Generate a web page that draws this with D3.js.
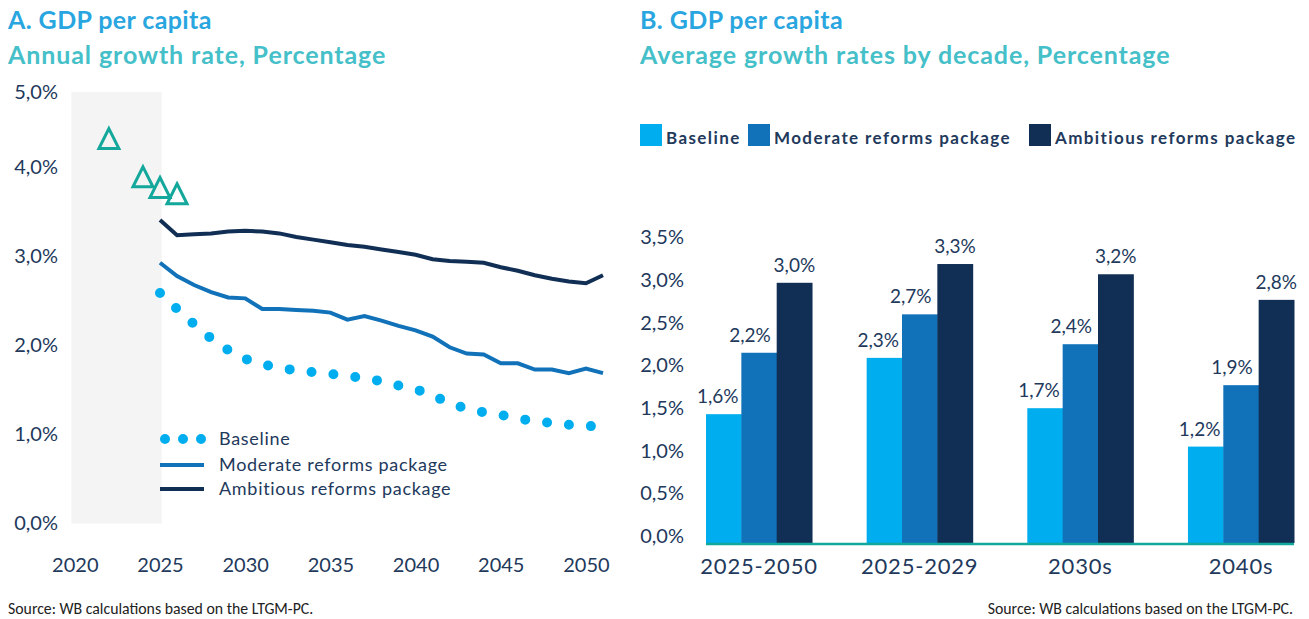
<!DOCTYPE html>
<html>
<head>
<meta charset="utf-8">
<script src="https://cdn.jsdelivr.net/npm/d3@7"></script>
<style>
  body { margin: 0; background: #fff; }
  text { font-family: Lato, "Open Sans", sans-serif; }
</style>
</head>
<body>
<svg width="1309" height="619"></svg>
<script>
// ---- data, panel A ----
var years = [2025, 2026, 2027, 2028, 2029, 2030, 2031, 2032, 2033, 2034, 2035, 2036, 2037, 2038,
  2039, 2040, 2041, 2042, 2043, 2044, 2045, 2046, 2047, 2048, 2049, 2050, 2051];
var baselineA = [2.59, 2.41, 2.24, 2.08, 1.95, 1.85, 1.79, 1.75, 1.72, 1.70, 1.68, 1.66, 1.63, 1.60,
  1.55, 1.51, 1.44, 1.35, 1.29, 1.25, 1.22, 1.18, 1.15, 1.13, 1.11, 1.10, 1.08];
var moderateA = [2.93, 2.78, 2.68, 2.60, 2.54, 2.53, 2.41, 2.41, 2.40, 2.39, 2.37, 2.29, 2.33, 2.28,
  2.22, 2.17, 2.10, 1.98, 1.91, 1.90, 1.80, 1.80, 1.73, 1.73, 1.69, 1.74, 1.69];
var ambitiousA = [3.41, 3.24, 3.25, 3.26, 3.28, 3.29, 3.28, 3.26, 3.22, 3.19, 3.16, 3.13, 3.11, 3.08,
  3.05, 3.02, 2.97, 2.95, 2.94, 2.93, 2.88, 2.84, 2.79, 2.75, 2.72, 2.70, 2.79];
var histYears = [2022, 2024, 2025, 2026];
var histValues = [4.32, 3.89, 3.77, 3.70];
var shadeYears = [2019.8, 2025.1];
var yTicksA = [0, 1, 2, 3, 4, 5];
var xTicksA = [2020, 2025, 2030, 2035, 2040, 2045, 2050];

// ---- data, panel B ----
var decades = ['2025-2050', '2025-2029', '2030s', '2040s'];
var seriesNames = ['Baseline', 'Moderate reforms package', 'Ambitious reforms package'];
var baselineB = [1.51, 2.17, 1.58, 1.13];
var moderateB = [2.23, 2.68, 2.33, 1.85];
var ambitiousB = [3.05, 3.27, 3.15, 2.85];
var labelsB = [
  ['1,6%', '2,3%', '1,7%', '1,2%'],
  ['2,2%', '2,7%', '2,4%', '1,9%'],
  ['3,0%', '3,3%', '3,2%', '2,8%']
];
var yTicksB = [0, 0.5, 1, 1.5, 2, 2.5, 3, 3.5];

var colors = ['#00aeef', '#1172ba', '#112f55'];
var textColor = '#22395c';
var teal = '#13a89b';

var locale = d3.formatLocale({decimal: ',', thousands: '.', grouping: [3], currency: ['', '']});
var pct = function(v) { return locale.format('.1f')(v) + '%'; };

var svg = d3.select('svg');

var title = function(x, a, b) {
  svg.append('text').attr('x', x).attr('y', 29)
    .attr('font-size', 25).attr('font-weight', 700).attr('letter-spacing', 0.4).attr('fill', '#29a6df')
    .text(a);
  svg.append('text').attr('x', x).attr('y', 64)
    .attr('font-size', 25).attr('font-weight', 700).attr('letter-spacing', 0.9).attr('fill', '#45c0c9')
    .text(b);
};
var source = function(x, anchor) {
  svg.append('text').attr('x', x).attr('y', 614).attr('text-anchor', anchor)
    .attr('font-size', 15.8).attr('fill', '#222')
    .style('font-family', 'Carlito, "Liberation Sans", sans-serif')
    .text('Source: WB calculations based on the LTGM-PC.');
};

// ================= Panel A =================
var xA = d3.scaleLinear().domain([2025, 2051]).range([160, 603]);
var yA = d3.scaleLinear().domain([0, 4.85]).range([523.5, 91.9]).clamp(true);

title(8, 'A. GDP per capita', 'Annual growth rate, Percentage');

svg.append('rect')
  .attr('x', xA(shadeYears[0]))
  .attr('width', xA(shadeYears[1]) - xA(shadeYears[0]))
  .attr('y', yA(4.85))
  .attr('height', yA(0) - yA(4.85))
  .attr('fill', '#f4f4f4');

var yAxisA = svg.append('g').attr('transform', 'translate(60,0)')
  .call(d3.axisLeft(yA).tickValues(yTicksA).tickFormat(pct).tickSize(0).tickPadding(2));
var xAxisA = svg.append('g').attr('transform', 'translate(0,548)')
  .call(d3.axisBottom(xA).tickValues(xTicksA).tickFormat(d3.format('d')).tickSize(0).tickPadding(10));
[yAxisA, xAxisA].forEach(function(g) {
  g.select('.domain').remove();
  g.selectAll('text').attr('font-size', 20).attr('fill', textColor)
    .style('font-family', 'Lato, sans-serif');
});

var lineA = d3.line()
  .x(function(d) { return xA(d[0]); })
  .y(function(d) { return yA(d[1]); });

var zip = function(vals) { return years.map(function(y, i) { return [y, vals[i]]; }); };

svg.append('path').datum(zip(ambitiousA)).attr('d', lineA)
  .attr('fill', 'none').attr('stroke', colors[2]).attr('stroke-width', 4);
svg.append('path').datum(zip(moderateA)).attr('d', lineA)
  .attr('fill', 'none').attr('stroke', colors[1]).attr('stroke-width', 4);
svg.append('path').datum(zip(baselineA)).attr('d', lineA)
  .attr('fill', 'none').attr('stroke', colors[0]).attr('stroke-width', 10)
  .attr('stroke-linecap', 'round').attr('stroke-dasharray', '0,22');

// historical points, drawn as open triangles
svg.selectAll('path.hist')
  .data(histYears.map(function(y, i) { return [y, histValues[i]]; }))
  .enter().append('path')
  .attr('class', 'hist')
  .attr('transform', function(d) { return 'translate(' + xA(d[0]) + ',' + yA(d[1]) + ')'; })
  .attr('d', 'M0,-10.5L10,9.5L-10,9.5Z')
  .attr('fill', 'none').attr('stroke', teal).attr('stroke-width', 3)
  .attr('stroke-linejoin', 'miter');

// legend A
var legA = svg.append('g');
var legRows = [439, 465, 489];
legA.append('line').attr('x1', 165).attr('x2', 202).attr('y1', legRows[0]).attr('y2', legRows[0])
  .attr('stroke', colors[0]).attr('stroke-width', 10).attr('stroke-linecap', 'round')
  .attr('stroke-dasharray', '0,18');
[1, 2].forEach(function(i) {
  legA.append('line').attr('x1', 160).attr('x2', 204).attr('y1', legRows[i]).attr('y2', legRows[i])
    .attr('stroke', colors[i]).attr('stroke-width', 4);
});
seriesNames.forEach(function(n, i) {
  legA.append('text').attr('x', 219).attr('y', legRows[i]).attr('dy', '0.35em')
    .attr('font-size', 18).attr('letter-spacing', 0.7).attr('fill', textColor).text(n);
});

source(8, 'start');

// ================= Panel B =================
title(640, 'B. GDP per capita', 'Average growth rates by decade, Percentage');

// legend B
var legBx = [640, 748, 1029];
seriesNames.forEach(function(n, i) {
  svg.append('rect').attr('x', legBx[i]).attr('y', 124).attr('width', 22).attr('height', 22)
    .attr('fill', colors[i]);
  svg.append('text').attr('x', legBx[i] + 26).attr('y', 144)
    .attr('font-size', 17).attr('font-weight', 700).attr('letter-spacing', 1.4)
    .attr('fill', textColor).text(n);
});

var xB = d3.scaleBand().domain(decades).range([706, 1294]).paddingInner(0.34);
var xSub = d3.scaleBand().domain(seriesNames).range([0, xB.bandwidth()]);
var yB = d3.scaleLinear().domain([0, 3.5]).range([543, 244.4]);

var seriesB = [baselineB, moderateB, ambitiousB];
var labelShift = [-6, -9, 0];

seriesB.forEach(function(vals, s) {
  var g = svg.append('g');
  g.selectAll('rect').data(vals).enter().append('rect')
    .attr('x', function(d, i) { return xB(decades[i]) + xSub(seriesNames[s]); })
    .attr('width', xSub.bandwidth() + 0.5)
    .attr('y', function(d) { return yB(d); })
    .attr('height', function(d) { return yB(0) - yB(d); })
    .attr('fill', colors[s]);
  g.selectAll('text').data(vals).enter().append('text')
    .attr('x', function(d, i) { return xB(decades[i]) + xSub(seriesNames[s]) + xSub.bandwidth() / 2 + labelShift[s]; })
    .attr('y', function(d) { return yB(d) - 11; })
    .attr('text-anchor', 'middle').attr('font-size', 19).attr('fill', textColor)
    .text(function(d, i) { return labelsB[s][i]; });
});

svg.append('line').attr('x1', 706).attr('x2', 1294).attr('y1', yB(0) + 1).attr('y2', yB(0) + 1)
  .attr('stroke', teal).attr('stroke-width', 2.5);

var yAxisB = svg.append('g').attr('transform', 'translate(686,-7)')
  .call(d3.axisLeft(yB).tickValues(yTicksB).tickFormat(pct).tickSize(0).tickPadding(2));
var xAxisB = svg.append('g').attr('transform', 'translate(0,548)')
  .call(d3.axisBottom(xB).tickSize(0).tickPadding(10));
[yAxisB, xAxisB].forEach(function(g) {
  g.select('.domain').remove();
  g.selectAll('text').attr('font-size', 20).attr('fill', textColor)
    .style('font-family', 'Lato, sans-serif');
});
xAxisB.selectAll('text').attr('font-size', 22).attr('letter-spacing', 0.8);

source(1293, 'end');
</script>
</body>
</html>
